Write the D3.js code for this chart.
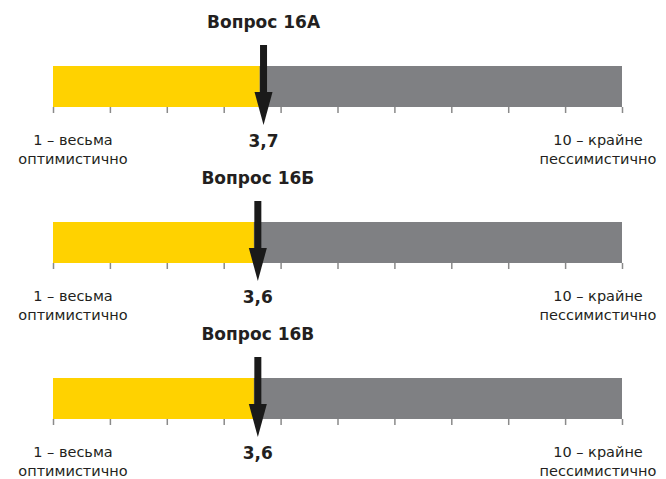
<!DOCTYPE html>
<html>
<head>
<meta charset="utf-8">
<script src="https://cdn.jsdelivr.net/npm/d3@7"></script>
<style>
  body { margin: 0; background: #fff; }
  .title { font-family: "DejaVu Sans", sans-serif; font-weight: bold; font-size: 17px; fill: #231f20; }
  .value { font-family: "DejaVu Sans", sans-serif; font-weight: bold; font-size: 17px; fill: #231f20; }
  .endLabel { font-family: "DejaVu Sans", sans-serif; font-size: 14.5px; fill: #231f20; }
</style>
</head>
<body>
<div id="chart"></div>
<script>
// data
var questions = ["Вопрос 16А", "Вопрос 16Б", "Вопрос 16В"];
var values = [3.7, 3.6, 3.6];
var valueLabels = ["3,7", "3,6", "3,6"];
var scaleTicks = [0, 1, 2, 3, 4, 5, 6, 7, 8, 9, 10];
var leftLabel = ["1 – весьма", "оптимистично"];
var rightLabel = ["10 – крайне", "пессимистично"];

// 1) canvas
var svg_width = 666;
var svg_height = 479;

var svg = d3.select("#chart")
    .append("svg")
    .attr("width", svg_width)
    .attr("height", svg_height);

// 2) scales
var xScale = d3.scaleLinear()
    .domain([0, 10])
    .range([53, 622]);

var panelY = d3.scaleBand()
    .domain(questions)
    .range([0, 468]);

var yellow = "#ffd200";
var grey = "#7f8083";

// 3) one panel per question
questions.forEach(function(q, i) {
    var g = svg.append("g")
        .attr("transform", `translate(0, ${panelY(q)})`);

    var barTop = 66;
    var barH = 41;

    // grey bar (whole scale)
    g.append("rect")
        .attr("x", xScale(0))
        .attr("y", barTop)
        .attr("width", xScale(10) - xScale(0))
        .attr("height", barH)
        .attr("fill", grey);

    // yellow part up to the value
    g.append("rect")
        .attr("x", xScale(0))
        .attr("y", barTop)
        .attr("width", xScale(values[i]) - xScale(0) - 4)
        .attr("height", barH)
        .attr("fill", yellow);

    // ticks under the bar
    var axis = d3.axisBottom(xScale)
        .tickValues(scaleTicks)
        .tickSize(6)
        .tickFormat("");

    var ax = g.append("g")
        .attr("transform", `translate(0, ${barTop + barH})`)
        .call(axis);
    ax.select(".domain").remove();
    ax.selectAll(".tick line")
        .attr("stroke", "#8a8a8a")
        .attr("stroke-width", 1.5);

    // title
    g.append("text")
        .attr("class", "title")
        .attr("x", xScale(values[i]))
        .attr("y", 28)
        .attr("text-anchor", "middle")
        .text(q);

    // arrow
    var ax0 = xScale(values[i]);
    g.append("rect")
        .attr("x", ax0 - 3.5)
        .attr("y", 45)
        .attr("width", 7)
        .attr("height", 50)
        .attr("fill", "#1a1a1a");
    g.append("path")
        .attr("d", `M${ax0 - 9},92 L${ax0 + 9},92 L${ax0},125 Z`)
        .attr("fill", "#1a1a1a");

    // value label
    g.append("text")
        .attr("class", "value")
        .attr("x", ax0)
        .attr("y", 147)
        .attr("text-anchor", "middle")
        .text(valueLabels[i]);

    // end labels
    g.selectAll(".leftLbl")
        .data(leftLabel)
        .enter()
        .append("text")
        .attr("class", "endLabel")
        .attr("x", 73)
        .attr("y", (d, k) => 145 + k * 19)
        .attr("text-anchor", "middle")
        .text(d => d);

    g.selectAll(".rightLbl")
        .data(rightLabel)
        .enter()
        .append("text")
        .attr("class", "endLabel")
        .attr("x", 598)
        .attr("y", (d, k) => 145 + k * 19)
        .attr("text-anchor", "middle")
        .text(d => d);
});
</script>
</body>
</html>
